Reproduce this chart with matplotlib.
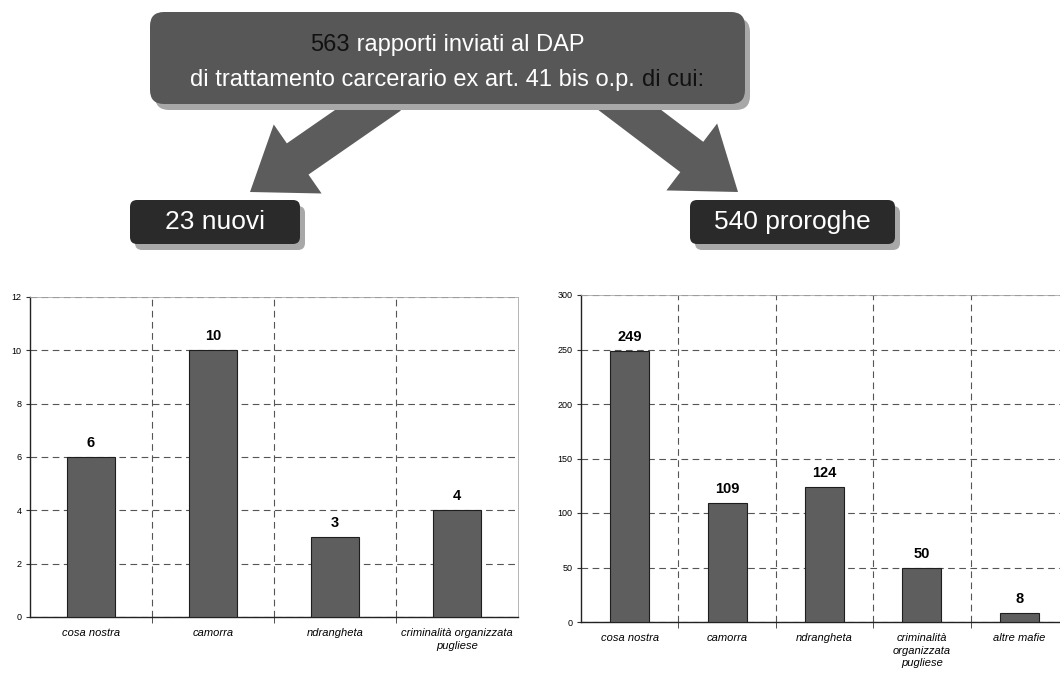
import matplotlib
matplotlib.use("Agg")
import matplotlib.pyplot as plt
from matplotlib.patches import FancyBboxPatch, Polygon
import numpy as np

plt.rcParams['font.family'] = ['Liberation Sans', 'DejaVu Sans']

# data
cat_nuovi = ["cosa nostra", "camorra", "ndrangheta", "criminalità organizzata\npugliese"]
val_nuovi = [6, 10, 3, 4]
cat_proroghe = ["cosa nostra", "camorra", "ndrangheta", "criminalità\norganizzata\npugliese", "altre mafie"]
val_proroghe = [249, 109, 124, 50, 8]

W, H = 1060, 673
fig = plt.figure(figsize=(W / 100, H / 100), dpi=100)
fig.patch.set_facecolor("white")

# overlay in pixel coords for the header graphics
ov = fig.add_axes([0, 0, 1, 1])
ov.set_xlim(0, W)
ov.set_ylim(H, 0)
ov.axis("off")


def arrow(x0, y0, x1, y1, shaft=38, head=84, head_len=58, color="#5c5c5c"):
    d = np.array([x1 - x0, y1 - y0], float)
    L = np.hypot(*d)
    u = d / L
    n = np.array([-u[1], u[0]])
    p0 = np.array([x0, y0])
    pb = p0 + u * (L - head_len)
    pts = [p0 + n * shaft / 2, pb + n * shaft / 2, pb + n * head / 2,
           np.array([x1, y1]), pb - n * head / 2, pb - n * shaft / 2, p0 - n * shaft / 2]
    ov.add_patch(Polygon(pts, closed=True, facecolor=color, edgecolor="none", zorder=1))


arrow(390, 95, 250, 192)
arrow(610, 95, 738, 192)


def box(x, y, w, h, fc, r=10):
    ov.add_patch(FancyBboxPatch((x + 5, y + 6), w, h, boxstyle=f"round,pad=0,rounding_size={r}",
                                facecolor="#a8a8a8", edgecolor="none", zorder=2))
    ov.add_patch(FancyBboxPatch((x, y), w, h, boxstyle=f"round,pad=0,rounding_size={r}",
                                facecolor=fc, edgecolor="none", zorder=3))


box(150, 12, 595, 92, "#575757", r=14)
box(130, 200, 170, 44, "#2a2a2a", r=7)
box(690, 200, 205, 44, "#2a2a2a", r=7)

r = fig.canvas.get_renderer()


def pieces(y, parts, size):
    # parts: list of (text, color), laid side by side and centred on the box
    tmp = [ov.text(0, y, s, fontsize=size, color=c, ha="left", va="center", zorder=4) for s, c in parts]
    widths = [t.get_window_extent(r).width for t in tmp]
    x = 447 - sum(widths) / 2
    for t, wpx in zip(tmp, widths):
        t.set_x(x)
        x += wpx


pieces(45, [("563", "#111111"), (" rapporti inviati al DAP", "white")], 17)
pieces(80, [("di trattamento carcerario ex art. 41 bis o.p. ", "white"), ("di cui:", "#111111")], 17)

ov.text(215, 222, "23 nuovi", color="white", fontsize=19, ha="center", va="center", zorder=4)
ov.text(792, 222, "540 proroghe", color="white", fontsize=19, ha="center", va="center", zorder=4)


def chart(rect, cats, vals, ymax, step):
    ax = fig.add_axes(rect)
    x = np.arange(len(cats))
    ax.bar(x, vals, width=0.4, color="#5e5e5e", edgecolor="#1e1e1e", linewidth=0.8, zorder=3)
    ax.set_xlim(-0.5, len(cats) - 0.5)
    ax.set_ylim(0, ymax)
    ax.set_yticks(np.arange(0, ymax + 1, step))
    ax.set_xticks(x)
    ax.set_xticklabels(cats, fontsize=8, style="italic", linespacing=1.3)
    ax.set_xticks(np.arange(0.5, len(cats) - 0.5, 1), minor=True)
    ax.tick_params(axis="x", which="major", length=0, pad=8)
    ax.tick_params(axis="x", which="minor", length=4, direction="out", color="#333")
    ax.tick_params(axis="y", labelsize=6.5, length=3, color="#333", pad=3)
    ax.grid(axis="y", which="major", linestyle=(0, (6, 4)), color="#555", linewidth=0.8, zorder=0)
    ax.grid(axis="x", which="minor", linestyle=(0, (6, 4)), color="#555", linewidth=0.8, zorder=0)
    for s in ("top", "right"):
        ax.spines[s].set_color("#aaaaaa")
        ax.spines[s].set_linewidth(0.6)
    for s in ("left", "bottom"):
        ax.spines[s].set_color("#222")
        ax.spines[s].set_linewidth(1.0)
    for xi, v in zip(x, vals):
        ax.annotate(str(v), (xi, v), xytext=(0, 5), textcoords="offset points",
                    ha="center", va="bottom", fontsize=10.5, fontweight="bold", zorder=4)
    return ax


chart([30 / W, 1 - 617 / H, 488 / W, 320 / H], cat_nuovi, val_nuovi, 12, 2)
chart([581 / W, 1 - 622 / H, 487 / W, 327 / H], cat_proroghe, val_proroghe, 300, 50)

fig.savefig("out.png", dpi=100, facecolor=fig.get_facecolor())
